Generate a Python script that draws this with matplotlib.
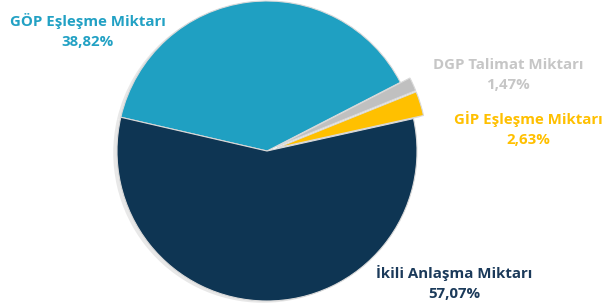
"""Pie chart of matching amounts by market."""

import matplotlib
matplotlib.use('Agg')
import matplotlib.pyplot as plt

labels = ['GÖP Eşleşme Miktarı', 'DGP Talimat Miktarı',
          'GİP Eşleşme Miktarı', 'İkili Anlaşma Miktarı']
shares = [38.82, 1.47, 2.63, 57.07]
pct_text = ['38,82%', '1,47%', '2,63%', '57,07%']
colors = ['#1fa0c2', '#c0c0c0', '#ffc000', '#0e3553']
text_colors = ['#22a1c4', '#c6c6c6', '#ffc000', '#1b3a5a']
explode = [0, 0.07, 0.07, 0]

# label anchor positions in figure pixels (x, y from top)
label_pos = [(88, 31), (508, 75), (528, 129), (454, 283)]

W, H = 604, 308
R = 150.0
cx, cy = 267, 151

fig = plt.figure(figsize=(W / 100, H / 100), dpi=100)
ax = fig.add_axes([0, 0, 1, 1])
ax.set_aspect('equal')
ax.axis('off')

# soft shadow
ax.pie(shares, radius=1.0, center=(-0.025, -0.012), startangle=167,
       counterclock=False, explode=explode,
       colors=['#e8e8e8'] * 4, wedgeprops=dict(edgecolor='none'))
ax.pie(shares, radius=1.0, startangle=167, counterclock=False,
       explode=explode, colors=colors,
       wedgeprops=dict(edgecolor='#d9d9d9', linewidth=0.8))
ax.set_xlim(-cx / R, (W - cx) / R)
ax.set_ylim(-(H - cy) / R, cy / R)

for lab, pct, col, (px, py) in zip(labels, pct_text, text_colors, label_pos):
    fig.text(px / W, 1 - py / H, lab + '\n' + pct, color=col,
             ha='center', va='center', fontsize=10.8, fontweight='bold',
             family='Open Sans', linespacing=1.55)

plt.savefig('out.png', dpi=100)
